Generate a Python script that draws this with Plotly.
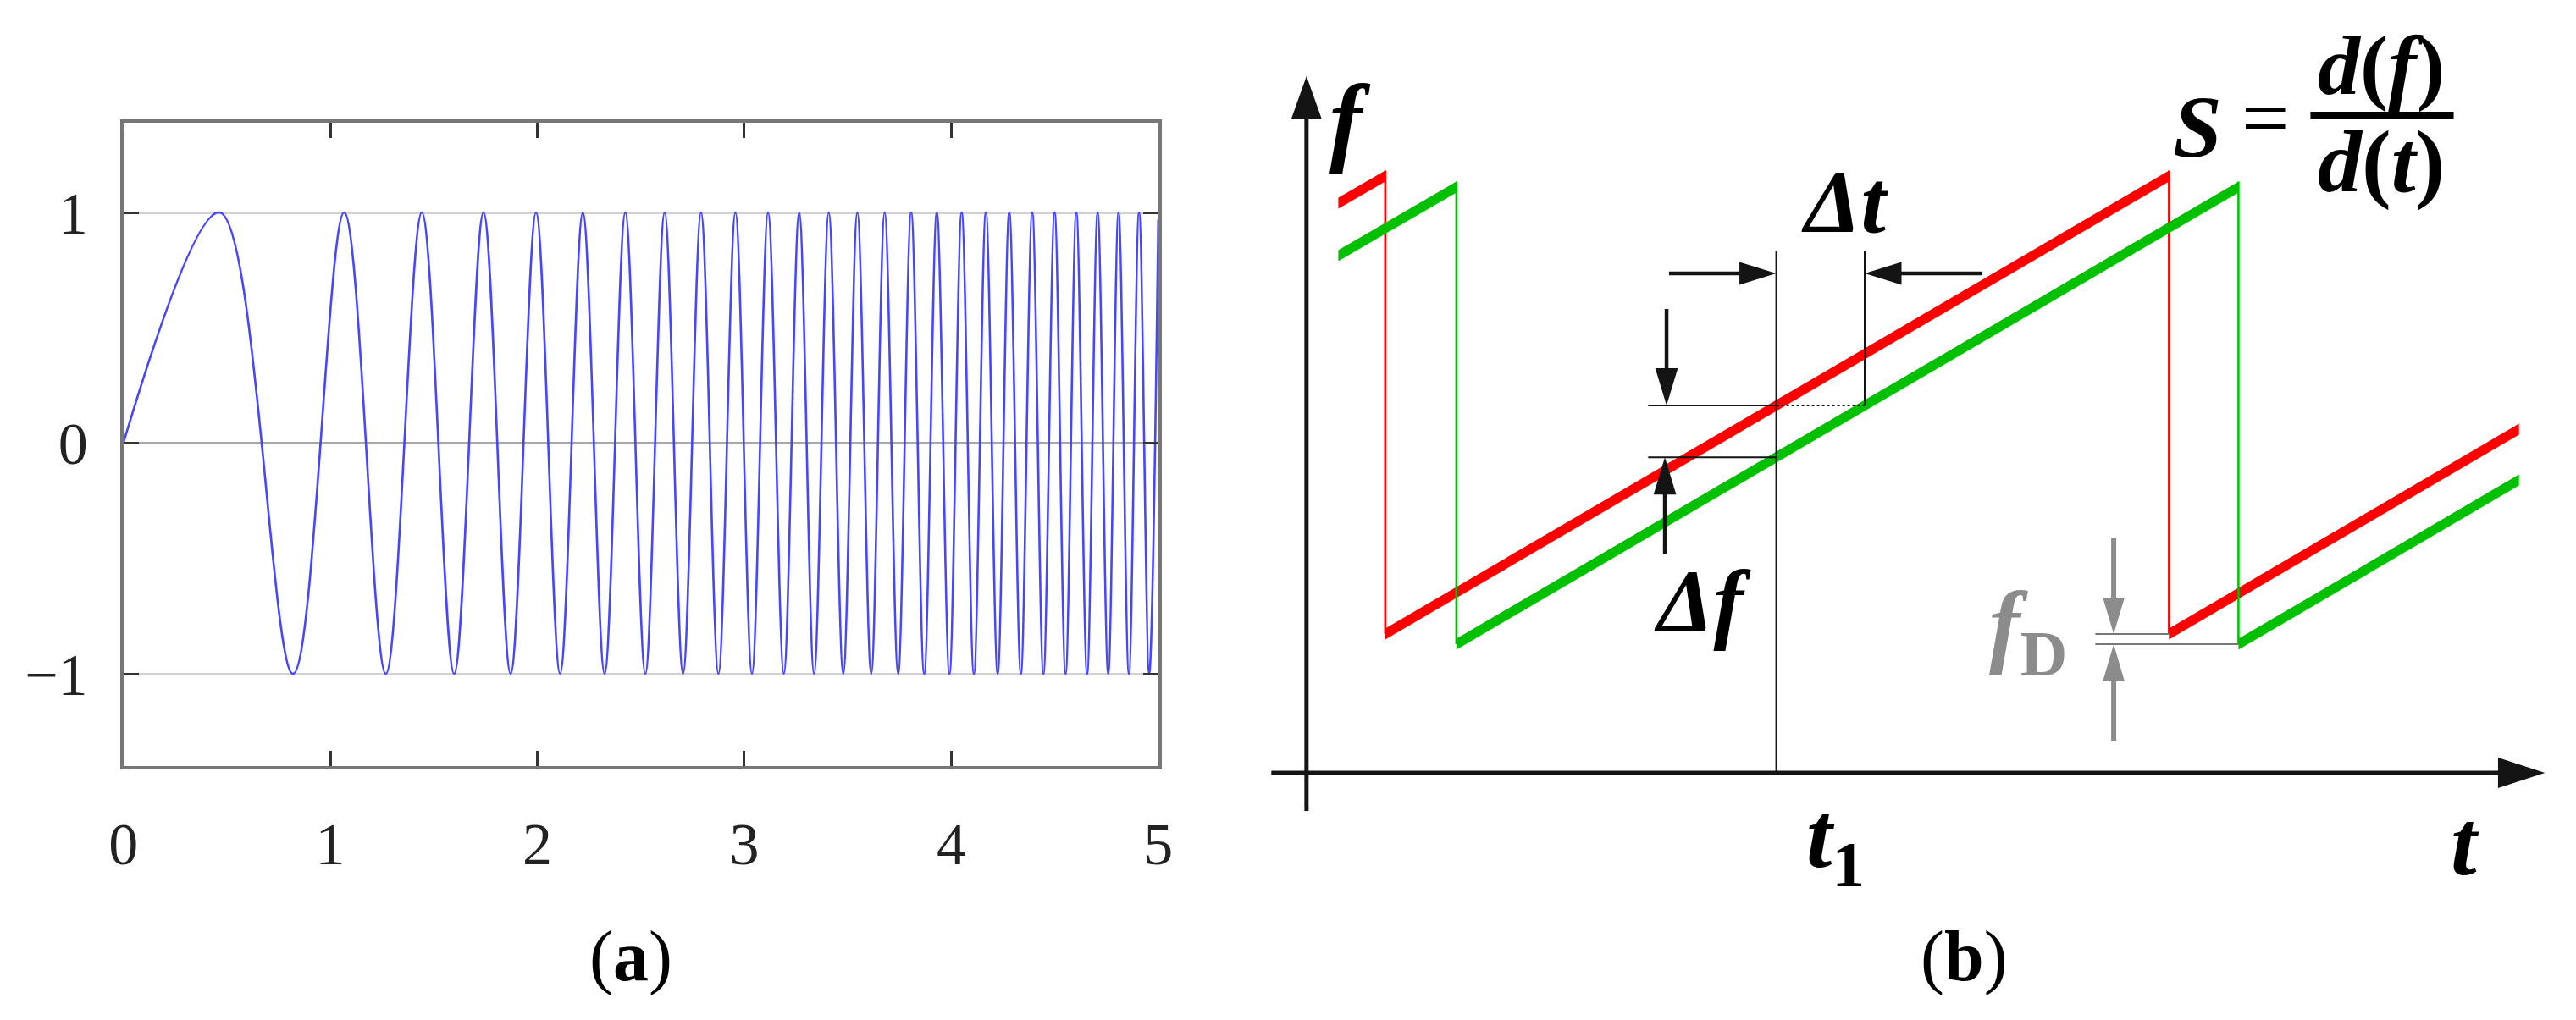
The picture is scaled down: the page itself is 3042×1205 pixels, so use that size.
import math
import plotly.graph_objects as go

W, H = 3042, 1205
SERIF = "Liberation Serif"

# ---- (a) chirp signal: extremum times ----
chirp_start = [0.0, 0.0]
chirp_end = [5.0, 0.97]
peak_t = [0.465, 1.067, 1.442, 1.740, 1.994, 2.220, 2.425, 2.615, 2.791, 2.957,
          3.115, 3.265, 3.408, 3.546, 3.678, 3.806, 3.930, 4.050, 4.167, 4.280,
          4.391, 4.499, 4.604, 4.707, 4.808, 4.907]
trough_t = [0.820, 1.268, 1.598, 1.871, 2.110, 2.325, 2.522, 2.704, 2.875, 3.037,
            3.191, 3.337, 3.478, 3.613, 3.743, 3.869, 3.991, 4.109, 4.224, 4.336,
            4.445, 4.552, 4.656, 4.758, 4.858, 4.956]
x_ticks = [0, 1, 2, 3, 4, 5]
y_ticks = [-1, 0, 1]

# ---- (b) FMCW sawtooth (t, f) vertices ----
red_t = [0.38, 0.94, 0.94, 10.30, 10.30, 14.48]
red_f = [6.73, 7.05, 1.64, 7.05, 1.64, 4.06]
green_t = [0.38, 1.79, 1.79, 11.13, 11.13, 14.48]
green_f = [6.11, 6.92, 1.52, 6.92, 1.52, 3.46]
t1 = 5.61

RED = "#ff0000"
GREEN = "#00c000"
BLACK = "#141414"
GRAY = "#8c8c8c"

fig = go.Figure()

# chirp
pts = sorted([(t, 1) for t in peak_t] + [(t, -1) for t in trough_t])
cx = [chirp_start[0]] + [p[0] for p in pts] + [chirp_end[0]]
cy = [chirp_start[1]] + [p[1] for p in pts] + [chirp_end[1]]
fig.add_trace(go.Scatter(x=cx, y=cy, mode="lines",
                         line=dict(color="#4646ff", width=2.6, shape="spline", smoothing=1),
                         xaxis="x", yaxis="y", hoverinfo="skip"))


def f_at(ts, fs, t):
    # value of the ramp (even index pairs) at time t
    for i in range(0, len(ts) - 1, 2):
        if ts[i] <= t <= ts[i + 1]:
            return fs[i] + (t - ts[i]) * (fs[i + 1] - fs[i]) / (ts[i + 1] - ts[i])
    return None


def t_at(ts, fs, f, tmin):
    for i in range(0, len(ts) - 1, 2):
        if ts[i + 1] < tmin:
            continue
        lo, hi = min(fs[i], fs[i + 1]), max(fs[i], fs[i + 1])
        if lo <= f <= hi:
            return ts[i] + (f - fs[i]) * (ts[i + 1] - ts[i]) / (fs[i + 1] - fs[i])
    return None


def seg(x, y, color, width, dash="solid"):
    fig.add_trace(go.Scatter(x=x, y=y, mode="lines", line=dict(color=color, width=width, dash=dash),
                             xaxis="x2", yaxis="y2", hoverinfo="skip"))


def poly(x, y, color):
    fig.add_trace(go.Scatter(x=x, y=y, mode="lines", fill="toself", fillcolor=color,
                             line=dict(width=0, color=color), xaxis="x2", yaxis="y2",
                             hoverinfo="skip"))


def arrow(x0, y0, x1, y1, color, width, head_len, head_w):
    dx, dy = x1 - x0, y1 - y0
    L = math.hypot(dx, dy)
    ux, uy = dx / L, dy / L
    bx, by = x1 - ux * head_len, y1 - uy * head_len
    seg([x0, bx + ux * 0.02], [y0, by + uy * 0.02], color, width)
    poly([x1, bx - uy * head_w, bx + uy * head_w, x1],
         [y1, by + ux * head_w, by - ux * head_w, y1], color)


def sawtooth(ts, fs, color):
    hw = 0.065
    bx, by = [], []
    for i in range(0, len(ts) - 1, 2):
        bx += [ts[i], ts[i + 1], ts[i + 1], ts[i], ts[i], None]
        by += [fs[i] + hw, fs[i + 1] + hw, fs[i + 1] - hw, fs[i] - hw, fs[i] + hw, None]
    poly(bx, by, color)
    dx, dy = [], []
    for i in range(1, len(ts) - 1, 2):
        dx += [ts[i], ts[i + 1], None]
        dy += [fs[i] + hw, fs[i + 1], None]
    seg(dx, dy, color, 2.5)


# axes of (b)
arrow(-0.42, 0, 14.79, 0, BLACK, 5, 0.56, 0.18)
arrow(0, -0.45, 0, 8.23, BLACK, 5, 0.50, 0.18)

sawtooth(red_t, red_f, RED)
sawtooth(green_t, green_f, GREEN)

f_red1 = f_at(red_t, red_f, t1)
f_green1 = f_at(green_t, green_f, t1)
t2 = t_at(green_t, green_f, f_red1, t1)

# construction lines
seg([t1, t1], [0, 6.16], BLACK, 2)
seg([t2, t2], [f_red1, 6.16], BLACK, 2)
seg([4.08, t1], [f_red1, f_red1], BLACK, 2)
seg([t1, t2], [f_red1, f_red1], BLACK, 2, "dot")
seg([4.08, t1], [f_green1, f_green1], BLACK, 2)

# delta-t arrows
arrow(4.33, 5.90, t1, 5.90, BLACK, 4.5, 0.44, 0.135)
arrow(8.07, 5.90, t2, 5.90, BLACK, 4.5, 0.44, 0.135)
# delta-f arrows
arrow(4.30, 5.48, 4.30, f_red1, BLACK, 4.5, 0.44, 0.135)
arrow(4.28, 2.58, 4.28, f_green1, BLACK, 4.5, 0.44, 0.135)

# Doppler shift markers
red_low = red_f[2]
green_low = green_f[2]
seg([9.42, red_t[3]], [red_low, red_low], "#777777", 2)
seg([9.42, green_t[3]], [green_low, green_low], "#777777", 2)
arrow(9.64, 2.78, 9.64, red_low, GRAY, 6, 0.43, 0.13)
arrow(9.64, 0.38, 9.64, green_low, GRAY, 6, 0.44, 0.13)

# fraction bar of S formula
seg([11.99, 13.70], [7.77, 7.77], "#000000", 8)

ann = []


def label(text, x, y, size, color="#000000", xref="x2", yref="y2"):
    ann.append(dict(text=text, x=x, y=y, xref=xref, yref=yref, showarrow=False,
                    xanchor="center", yanchor="middle",
                    font=dict(family=SERIF, size=size, color=color)))


label("<b><i>f</i></b>", 0.52, 7.72, 116)
label("<b><i>t</i></b>", 13.84, -0.83, 110)
label("<b><i>t</i><sub>1</sub></b>", 6.32, -0.82, 110)
label("<b><i>Δt</i></b>", 6.43, 6.75, 106)
label("<b><i>Δf</i></b>", 4.73, 2.03, 106)
label("<b><i>f</i><sub>D</sub></b>", 8.62, 1.67, 110, GRAY)
label("<b><i>S</i></b>", 10.64, 7.64, 104)
label("=", 11.45, 7.74, 100)
label("<b><i>d</i>(<i>f</i>)</b>", 12.83, 8.36, 100)
label("<b><i>d</i>(<i>t</i>)</b>", 12.83, 7.22, 104)

label("(<b>a</b>)", 728 / W, 1 - 1122 / H, 84, xref="paper", yref="paper")
label("(<b>b</b>)", 2320 / W, 1 - 1122 / H, 84, xref="paper", yref="paper")

tickfont = dict(family=SERIF, size=70, color="#222222")
fig.update_layout(
    width=W, height=H,
    margin=dict(l=0, r=0, t=0, b=0),
    paper_bgcolor="white", plot_bgcolor="white",
    showlegend=False, hovermode=False,
    annotations=ann,
    xaxis=dict(domain=[122 / W, 1358 / W], range=[0, 5], tickvals=x_ticks,
               ticks="inside", ticklen=18, tickwidth=3, tickcolor="#333333",
               showline=True, linecolor="#777777", linewidth=4, mirror="ticks",
               showgrid=False, zeroline=False, tickfont=tickfont, ticklabelstandoff=28),
    yaxis=dict(domain=[1 - 897 / H, 1 - 137 / H], range=[-1.40, 1.389], tickvals=y_ticks,
               ticks="inside", ticklen=18, tickwidth=3, tickcolor="#333333",
               showline=True, linecolor="#777777", linewidth=4, mirror="ticks",
               showgrid=True, gridcolor="#d2d2d2", gridwidth=3,
               zeroline=True, zerolinecolor="#a8a8a8", zerolinewidth=3,
               tickfont=tickfont, ticklabelstandoff=24),
    xaxis2=dict(domain=[1480 / W, 1], range=[-0.55, 15.07], visible=False, anchor="y2"),
    yaxis2=dict(domain=[0, 1], range=[-3.0, 9.05], visible=False, anchor="x2"),
)

fig.write_html("out.html")
